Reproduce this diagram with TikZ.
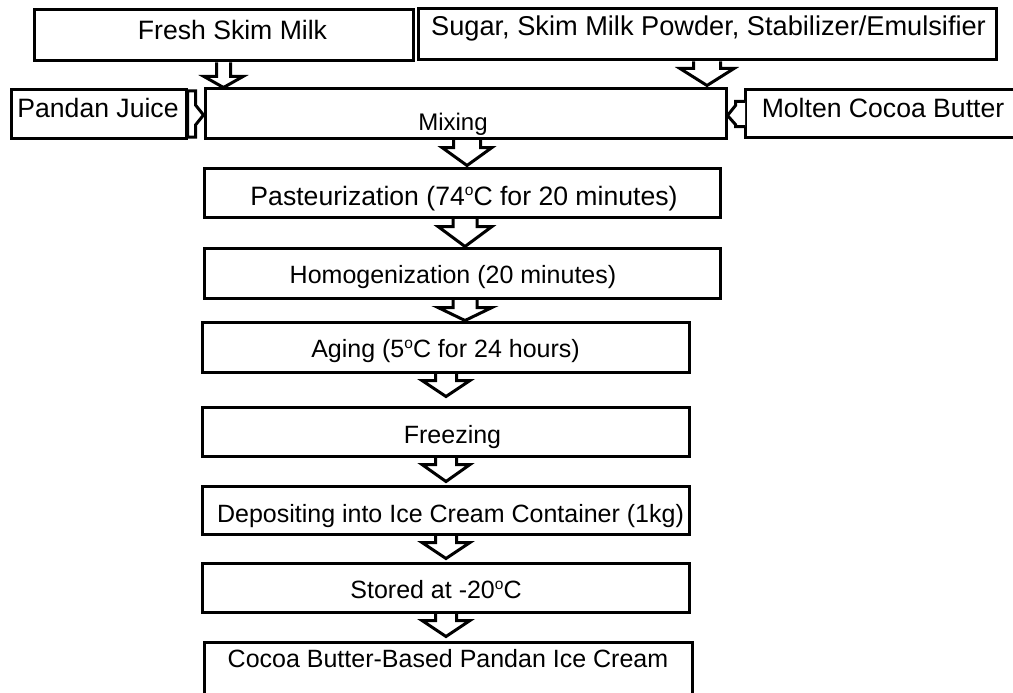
\documentclass[tikz,border=0pt]{standalone}
\usepackage{fontspec}
\setmainfont{Liberation Sans}
\usetikzlibrary{calc}
% small raised "o" used as degree sign
\newcommand\dego{\raisebox{0.36em}{\fontsize{15.5}{15.5}\selectfont o}}
% vertical block arrow: from, to, x, stem half width, head half width, stem length, gap above target
\newcommand\vblk[7]{%
  \draw[blk] let \p1=(#1.south), \p2=(#2.north) in
    (#3pt-#4pt,\y1) -- (#3pt-#4pt,\y1-#6pt) -- (#3pt-#5pt,\y1-#6pt) -- (#3pt,\y2+#7pt)
    -- (#3pt+#5pt,\y1-#6pt) -- (#3pt+#4pt,\y1-#6pt) -- (#3pt+#4pt,\y1);}
\begin{document}
\begin{tikzpicture}[x=1pt,y=-1pt,
  box/.style={draw=black,line width=3pt,inner sep=0pt,fill=white},
  txt/.style={inner sep=0pt,anchor=base,font=\fontsize{25}{30}\selectfont},
  bigtxt/.style={txt,font=\fontsize{26.6}{32}\selectfont},
  blk/.style={draw=black,line width=3pt,line join=miter}]
\useasboundingbox[fill=white] (0,0) rectangle (1013,693);
% boxes
\node[box,minimum width=379pt,minimum height=51pt] (fsm) at (223.5,35.5) {};
\node[box,minimum width=578pt,minimum height=51pt] (sug) at (707,34.5) {};
\node[box,minimum width=175pt,minimum height=48pt] (pj) at (98.5,114) {};
\node[box,minimum width=521pt,minimum height=49pt] (mix) at (465.5,113.5) {};
\node[box,minimum width=285pt,minimum height=47pt] (mcb) at (887.5,113.5) {};
\node[box,minimum width=516pt,minimum height=49pt] (past) at (462,192.5) {};
\node[box,minimum width=516pt,minimum height=50pt] (homo) at (462,273) {};
\node[box,minimum width=487pt,minimum height=50pt] (aging) at (445.5,347) {};
\node[box,minimum width=487pt,minimum height=49pt] (frz) at (445.5,431.5) {};
\node[box,minimum width=487pt,minimum height=48pt] (dep) at (445.5,510) {};
\node[box,minimum width=487pt,minimum height=49pt] (sto) at (445.5,587.5) {};
\node[box,minimum width=488pt,minimum height=68pt] (coc) at (448,676) {};
% texts
\node[bigtxt] (tfsm) at (232.5,39.5) {Fresh Skim Milk};
\node[bigtxt,font=\fontsize{27.2}{32}\selectfont] (tsug) at (708.5,35.5) {Sugar, Skim Milk Powder, Stabilizer/Emulsifier};
\node[bigtxt] (tpj) at (98,117.5) {Pandan Juice};
\node[txt,font=\fontsize{24}{30}\selectfont] (tmix) at (453,131) {Mixing};
\node[bigtxt] (tmcb) at (883,117.5) {Molten Cocoa Butter};
\node[bigtxt] (tpast) at (464,205.5) {Pasteurization (74\dego C for 20 minutes)};
\node[txt] (thomo) at (453,283) {Homogenization (20 minutes)};
\node[txt] (taging) at (445.5,357) {Aging (5\dego C for 24 hours)};
\node[txt] (tfrz) at (452.5,443) {Freezing};
\node[txt] (tdep) at (450.5,522) {Depositing into Ice Cream Container (1kg)};
\node[txt] (tsto) at (436,598) {Stored at -20\dego C};
\node[txt] (tcoc) at (448,667) {Cocoa Butter-Based Pandan Ice Cream};
% vertical block arrows
\vblk{fsm}{mix}{223.5}{7}{19.5}{14}{0}
\vblk{sug}{mix}{707}{13.5}{27}{7}{2}
\vblk{mix}{past}{467}{13.5}{25}{8}{1}
\vblk{past}{homo}{465}{12}{27}{8}{0}
\vblk{homo}{aging}{465}{12}{27}{8}{0}
\vblk{aging}{frz}{446}{10.5}{24}{7}{9}
\vblk{frz}{dep}{446}{10.5}{24}{7}{3}
\vblk{dep}{sto}{446}{10.5}{24}{7}{3}
\vblk{sto}{coc}{446}{10.5}{24}{7}{4}
% horizontal block arrows
\draw[blk,fill=white] let \p1=(pj.east), \p2=(mix.west) in
  (\x1,\y1+23pt) -- (\x1+8pt,\y1+23pt) -- (\x1+8pt,\y1+9pt) -- (\x2,\y1-1pt)
  -- (\x1+8pt,\y1-11pt) -- (\x1+8pt,\y1-23pt) -- (\x1,\y1-23pt) -- cycle;
\draw[blk,fill=white] let \p1=(mcb.west), \p2=(mix.east) in
  (\x1+1.5pt,\y1+12pt) -- (\x2+8pt,\y1+12pt) -- (\x2+8pt,\y1+8pt) -- (\x2,\y1-2pt)
  -- (\x2+8pt,\y1-11pt) -- (\x2+8pt,\y1-13pt) -- (\x1+1.5pt,\y1-13pt);
\end{tikzpicture}
\end{document}
